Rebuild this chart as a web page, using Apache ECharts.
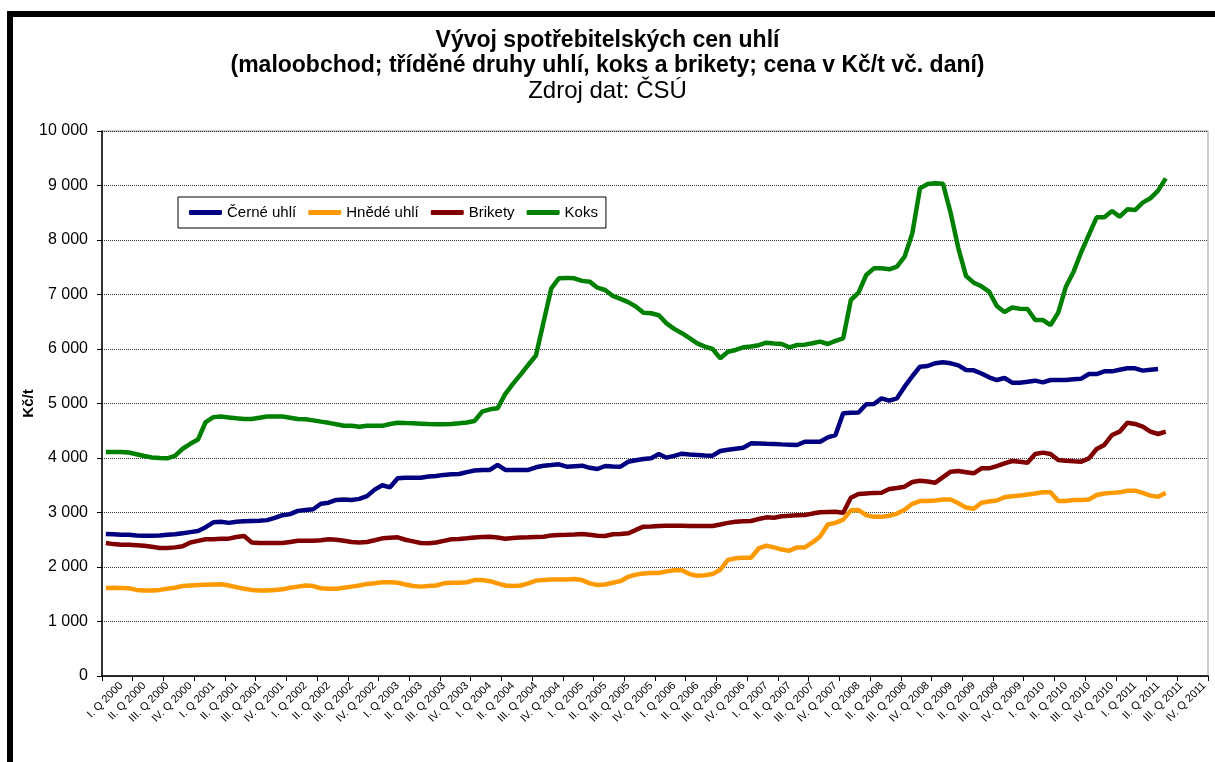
<!DOCTYPE html>
<html>
<head>
<meta charset="utf-8">
<script src="https://cdn.jsdelivr.net/npm/echarts@6/dist/echarts.min.js"></script>
<style>
  html, body { margin: 0; padding: 0; background: #fff; }
  #chart { width: 1215px; height: 762px; }
  /* tlustý černý rám grafu (vpravo a dole oříznutý) */
  #frame { position: absolute; left: 7px; top: 11px; width: 1300px; height: 800px;
           border-top: 6px solid #000; border-left: 6px solid #000; pointer-events: none; }
</style>
</head>
<body>
<div id="chart"></div>
<div id="frame"></div>
<script>
// popisky čtvrtletí (osa x je měsíční, 3 měsíce na čtvrtletí)
var quarterLabels = [
  "I. Q 2000","II. Q 2000","III. Q 2000","IV. Q 2000",
  "I. Q 2001","II. Q 2001","III. Q 2001","IV. Q 2001",
  "I. Q 2002","II. Q 2002","III. Q 2002","IV. Q 2002",
  "I. Q 2003","II. Q 2003","III. Q 2003","IV. Q 2003",
  "I. Q 2004","II. Q 2004","III. Q 2004","IV. Q 2004",
  "I. Q 2005","II. Q 2005","III. Q 2005","IV. Q 2005",
  "I. Q 2006","II. Q 2006","III. Q 2006","IV. Q 2006",
  "I. Q 2007","II. Q 2007","III. Q 2007","IV. Q 2007",
  "I. Q 2008","II. Q 2008","III. Q 2008","IV. Q 2008",
  "I. Q 2009","II. Q 2009","III. Q 2009","IV. Q 2009",
  "I. Q 2010","II. Q 2010","III. Q 2010","IV. Q 2010",
  "I. Q 2011","II. Q 2011","III. Q 2011","IV. Q 2011"
];

// Kč/t, měsíčně od ledna 2000
var cerneUhli = [
  2606,2600,2590,2590,2580,2575,2575,2580,2590,2600,2620,2640,2660,2730,2820,2830,2810,2830,2840,2845,
  2850,2860,2900,2950,2970,3030,3045,3060,3160,3180,3230,3240,3230,3250,3300,3420,3500,3462,3627,3639,
  3639,3639,3660,3670,3690,3700,3706,3740,3770,3780,3780,3872,3780,3780,3780,3780,3830,3859,3870,3884,
  3841,3850,3859,3820,3798,3853,3845,3841,3930,3960,3980,3994,4073,4006,4040,4080,4065,4055,4045,4043,
  4128,4150,4170,4189,4269,4265,4260,4257,4250,4245,4238,4299,4299,4299,4379,4422,4820,4830,4835,4985,
  4991,5095,5052,5095,5309,5500,5676,5688,5740,5755,5737,5700,5615,5609,5550,5480,5431,5468,5382,5382,
  5400,5419,5388,5431,5431,5431,5445,5456,5541,5541,5590,5590,5620,5646,5646,5603,5620,5633
];
var hnedeUhli = [
  1615,1620,1615,1610,1580,1570,1570,1580,1600,1620,1650,1660,1670,1675,1680,1685,1660,1630,1600,1580,
  1570,1570,1580,1590,1620,1640,1660,1650,1610,1600,1600,1620,1640,1660,1690,1700,1720,1720,1710,1680,
  1650,1640,1650,1660,1700,1710,1710,1720,1760,1760,1740,1700,1660,1650,1660,1700,1750,1760,1770,1770,
  1770,1780,1760,1700,1670,1680,1710,1740,1820,1860,1880,1890,1890,1920,1940,1940,1870,1840,1850,1870,
  1950,2130,2160,2170,2170,2340,2390,2360,2320,2300,2360,2360,2450,2560,2780,2810,2870,3040,3046,2950,
  2920,2920,2940,2980,3050,3160,3210,3210,3220,3240,3240,3170,3090,3070,3180,3200,3220,3280,3300,3310,
  3330,3350,3370,3370,3210,3210,3230,3230,3240,3320,3350,3360,3370,3400,3400,3360,3310,3290,3360
];
var brikety = [
  2440,2420,2410,2410,2400,2390,2370,2350,2350,2360,2380,2450,2480,2510,2510,2520,2520,2550,2570,2450,
  2440,2440,2440,2440,2460,2480,2480,2480,2490,2510,2500,2480,2460,2450,2460,2490,2526,2535,2544,2500,
  2470,2440,2434,2450,2480,2508,2515,2526,2540,2550,2556,2540,2520,2530,2540,2544,2550,2556,2580,2587,
  2590,2595,2605,2590,2575,2570,2600,2605,2618,2680,2740,2745,2752,2755,2758,2755,2752,2752,2752,2752,
  2780,2810,2832,2840,2844,2880,2911,2905,2930,2942,2948,2954,2980,3003,3010,3015,2997,3272,3339,3350,
  3360,3364,3431,3450,3474,3560,3584,3570,3547,3650,3749,3760,3740,3719,3811,3811,3850,3900,3945,3930,
  3914,4073,4098,4073,3963,3950,3940,3933,3994,4165,4239,4422,4483,4648,4624,4575,4483,4440,4483
];
var koks = [
  4110,4110,4110,4100,4070,4037,4010,4000,3995,4040,4170,4260,4340,4660,4750,4760,4745,4730,4716,4716,
  4740,4760,4760,4760,4740,4716,4710,4690,4667,4645,4620,4593,4593,4575,4593,4593,4590,4624,4645,4640,
  4636,4630,4624,4620,4618,4625,4636,4650,4680,4850,4893,4911,5174,5360,5530,5710,5880,6500,7113,7300,
  7305,7297,7250,7236,7125,7083,6975,6920,6860,6780,6667,6655,6620,6471,6370,6290,6200,6104,6043,6000,
  5829,5950,5982,6031,6045,6070,6116,6100,6092,6031,6073,6080,6105,6135,6092,6150,6196,6899,7033,7358,
  7480,7480,7462,7511,7694,8122,8948,9028,9040,9030,8490,7847,7339,7217,7150,7052,6789,6680,6760,6740,
  6734,6532,6532,6440,6667,7144,7419,7780,8100,8416,8416,8532,8428,8563,8550,8685,8765,8905,9131
];

// kategorie osy x: každé čtvrtletí 3x (měsíce)
var months = [];
quarterLabels.forEach(function (q) { months.push(q, q, q); });

var font = "Arial, 'Liberation Sans', sans-serif";

function fmt(v) {
  return String(v).replace(/\B(?=(\d{3})+(?!\d))/g, " ");
}

function line(name, data, color) {
  return {
    name: name,
    type: "line",
    data: data,
    symbol: "none",
    showSymbol: false,
    lineStyle: { color: color, width: 4.5 },
    itemStyle: { color: color },
    animation: false
  };
}

var myChart = echarts.init(document.getElementById("chart"));
var option = {
  backgroundColor: "#fff",
  animation: false,
  title: {
    text: "Vývoj spotřebitelských cen uhlí\n(maloobchod; tříděné druhy uhlí, koks a brikety; cena v Kč/t vč. daní)",
    subtext: "Zdroj dat: ČSÚ",
    left: "center",
    top: 23,
    itemGap: 1,
    textStyle: { fontFamily: font, fontSize: 23, fontWeight: "bold", color: "#000", lineHeight: 25 },
    subtextStyle: { fontFamily: font, fontSize: 24, color: "#000" }
  },
  legend: {
    left: 178,
    top: 197,
    orient: "horizontal",
    itemWidth: 33,
    itemHeight: 5,
    itemGap: 12,
    icon: "roundRect",
    padding: [8, 8, 8, 11],
    borderColor: "#000",
    borderWidth: 1,
    backgroundColor: "#fff",
    textStyle: { fontFamily: font, fontSize: 15, color: "#000" },
    data: ["Černé uhlí", "Hnědé uhlí", "Brikety", "Koks"]
  },
  grid: {
    left: 102,
    right: 7,
    top: 131,
    bottom: 86,
    show: true,
    borderColor: "#999",
    borderWidth: 1,
    containLabel: false
  },
  xAxis: {
    type: "category",
    data: months,
    boundaryGap: true,
    axisLine: { lineStyle: { color: "#000", width: 1.5 } },
    axisTick: {
      show: true,
      length: 5,
      lineStyle: { color: "#000" },
      interval: function (i) { return i % 4 === 0; }
    },
    axisLabel: {
      interval: function (i) { return i % 3 === 2; },
      rotate: 45,
      margin: 8,
      fontFamily: font,
      fontSize: 11,
      color: "#000"
    },
    splitLine: { show: false }
  },
  yAxis: {
    type: "value",
    min: 0,
    max: 10000,
    interval: 1000,
    name: "Kč/t",
    nameLocation: "middle",
    nameGap: 66,
    nameMoveOverlap: false,
    nameTextStyle: { fontFamily: font, fontSize: 15, fontWeight: "bold", color: "#000" },
    axisLine: { show: true, lineStyle: { color: "#000", width: 1.5 } },
    axisTick: { show: true, length: 5, lineStyle: { color: "#000" } },
    axisLabel: {
      margin: 14,
      fontFamily: font,
      fontSize: 16,
      color: "#000",
      formatter: fmt
    },
    splitLine: { show: true, lineStyle: { color: "#000", type: [1, 1], width: 1, opacity: 0.8 } }
  },
  series: [
    line("Černé uhlí", cerneUhli, "#000080"),
    line("Hnědé uhlí", hnedeUhli, "#FF9900"),
    line("Brikety", brikety, "#800000"),
    line("Koks", koks, "#008000")
  ]
};
myChart.setOption(option);
</script>
</body>
</html>
